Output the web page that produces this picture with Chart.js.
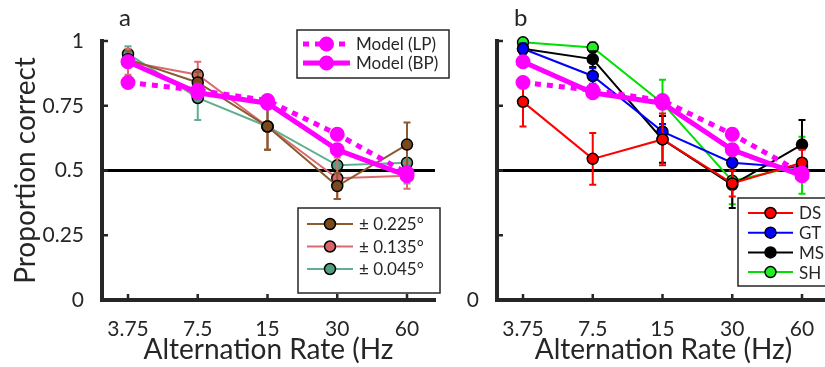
<!DOCTYPE html>
<html>
<head>
<meta charset="utf-8">
<script src="https://cdn.jsdelivr.net/npm/chart.js@4.4.1/dist/chart.umd.min.js"></script>
<style>
    html, body { margin: 0; padding: 0; background: #fff; overflow: hidden; width: 825px; height: 367px; }
    #chartA { position: absolute; left: 0; top: 0; }
    #chartB { position: absolute; left: 440px; top: 0; }
</style>
</head>
<body>
<canvas id="chartB" width="400" height="367"></canvas>
<canvas id="chartA" width="470" height="367"></canvas>
<script>
// x categories (Hz) and axis ticks
var rates = [3.75, 7.5, 15, 30, 60];
var rateLabels = ['3.75', '7.5', '15', '30', '60'];
var yTicks = [0, 0.25, 0.5, 0.75, 1];
var yTickLabels = ['0', '0.25', '0.5', '0.75', '1'];
var chance = 0.5;

// model curves, same in both panels
var modelLP = [0.84, 0.81, 0.77, 0.64, 0.49];
var modelBP = [0.92, 0.80, 0.76, 0.58, 0.48];

// panel a: disparity amplitude
var amp225 = [0.93, 0.84, 0.67, 0.44, 0.60];
var amp225Err = [0.03, 0.04, 0.09, 0.05, 0.085];
var amp135 = [0.92, 0.87, 0.67, 0.47, 0.48];
var amp135Err = [0.05, 0.05, 0.09, 0.08, 0.05];
var amp045 = [0.95, 0.78, 0.67, 0.52, 0.53];
var amp045Err = [0.03, 0.085, 0.09, 0.05, 0.08];

// panel b: observers
var obsDS = [0.765, 0.545, 0.62, 0.45, 0.53];
var obsDSErr = [0.095, 0.1, 0.1, 0.05, 0.05];
var obsGT = [0.97, 0.865, 0.65, 0.53, 0.51];
var obsGTErr = [0.02, 0.03, 0.03, 0.03, 0.03];
var obsMS = [0.97, 0.93, 0.62, 0.445, 0.60];
var obsMSErr = [0.02, 0.03, 0.09, 0.09, 0.095];
var obsSH = [0.995, 0.975, 0.76, 0.46, 0.52];
var obsSHErr = [0.01, 0.02, 0.09, 0.09, 0.11];

var axisColor = '#262626';
Chart.defaults.font.family = 'Lato';
Chart.defaults.color = axisColor;

function toPoints(vals) {
    return rates.map(function (r, i) { return { x: r, y: vals[i] }; });
}

function model(label, vals, dashed) {
    return {
        label: label, data: toPoints(vals),
        borderColor: '#ff00ff', borderWidth: 5, borderDash: dashed ? [6, 6] : [],
        pointRadius: 6.5, pointBackgroundColor: '#ff00ff', pointBorderColor: '#ff00ff', pointBorderWidth: 2
    };
}

function subject(label, vals, errs, line, fill) {
    return {
        label: label, data: toPoints(vals), errors: errs,
        borderColor: line, borderWidth: 2,
        pointRadius: 5.5, pointBackgroundColor: fill, pointBorderColor: '#000', pointBorderWidth: 1.5
    };
}

// chance line, error bars, inward ticks, panel letter and boxed legends
var panelDecor = {
    id: 'panelDecor',
    beforeDatasetsDraw: function (chart) {
        var ctx = chart.ctx, a = chart.chartArea, y = chart.scales.y.getPixelForValue(chance);
        ctx.save();
        ctx.strokeStyle = '#000';
        ctx.lineWidth = 3;
        ctx.beginPath();
        ctx.moveTo(a.left, y);
        ctx.lineTo(a.right, y);
        ctx.stroke();
        ctx.restore();
    },
    beforeDatasetDraw: function (chart, args) {
        var ds = chart.data.datasets[args.index];
        if (!ds.errors) return;
        var ctx = chart.ctx, xs = chart.scales.x, ys = chart.scales.y;
        ctx.save();
        ctx.strokeStyle = ds.borderColor;
        ctx.lineWidth = 2;
        ds.data.forEach(function (p, i) {
            var x = xs.getPixelForValue(p.x);
            var lo = ys.getPixelForValue(p.y - ds.errors[i]);
            var hi = ys.getPixelForValue(p.y + ds.errors[i]);
            ctx.beginPath();
            ctx.moveTo(x, lo); ctx.lineTo(x, hi);
            ctx.moveTo(x - 3.5, lo); ctx.lineTo(x + 3.5, lo);
            ctx.moveTo(x - 3.5, hi); ctx.lineTo(x + 3.5, hi);
            ctx.stroke();
        });
        ctx.restore();
    },
    afterDraw: function (chart, args, opts) {
        var ctx = chart.ctx, a = chart.chartArea, xs = chart.scales.x, ys = chart.scales.y;
        ctx.save();
        ctx.strokeStyle = axisColor;
        ctx.lineWidth = 2.5;
        ctx.beginPath();
        rates.forEach(function (r) {
            var x = xs.getPixelForValue(r);
            ctx.moveTo(x, a.bottom); ctx.lineTo(x, a.bottom - 6);
        });
        yTicks.forEach(function (v) {
            var y = ys.getPixelForValue(v);
            ctx.moveTo(a.left, y); ctx.lineTo(a.left + 6, y);
        });
        ctx.stroke();

        ctx.fillStyle = axisColor;
        ctx.font = '24px Lato';
        ctx.textBaseline = 'alphabetic';
        ctx.fillText(opts.letter, a.left + 17, 26);

        (opts.legends || []).forEach(function (lg) {
            ctx.fillStyle = '#fff';
            ctx.fillRect(lg.x, lg.y, lg.w, lg.h);
            ctx.strokeStyle = axisColor;
            ctx.lineWidth = 1.5;
            ctx.setLineDash([]);
            ctx.strokeRect(lg.x, lg.y, lg.w, lg.h);
            lg.ids.forEach(function (id, k) {
                var ds = chart.data.datasets[id];
                var cy = lg.y + lg.first + k * lg.rowH;
                var x0 = lg.x + lg.lineFrom, x1 = x0 + lg.lineLen, cx = (x0 + x1) / 2;
                ctx.strokeStyle = ds.borderColor;
                ctx.lineWidth = ds.borderWidth;
                ctx.setLineDash(ds.borderDash || []);
                ctx.beginPath();
                ctx.moveTo(x0, cy); ctx.lineTo(x1, cy);
                ctx.stroke();
                ctx.setLineDash([]);
                ctx.beginPath();
                ctx.arc(cx, cy, ds.pointRadius, 0, Math.PI * 2);
                ctx.fillStyle = ds.pointBackgroundColor;
                ctx.fill();
                ctx.lineWidth = ds.pointBorderWidth;
                ctx.strokeStyle = ds.pointBorderColor;
                ctx.stroke();
                ctx.fillStyle = axisColor;
                ctx.font = '17px Lato';
                ctx.textBaseline = 'middle';
                ctx.fillText(ds.label, x1 + 6, cy + 1);
            });
        });
        ctx.restore();
    }
};

function makeOptions(cfg) {
    return {
        responsive: false,
        animation: false,
        layout: { padding: { top: 41, right: cfg.padRight, left: 0, bottom: 0 } },
        datasets: { line: { tension: 0, clip: false } },
        plugins: { legend: { display: false }, tooltip: { enabled: false }, panelDecor: cfg.decor },
        scales: {
            x: {
                type: 'logarithmic', min: 2.896, max: 79.25,
                afterBuildTicks: function (s) { s.ticks = rates.map(function (v) { return { value: v }; }); },
                afterFit: function (s) { s.height = 67; },
                grid: { display: false },
                border: { color: axisColor, width: 4 },
                ticks: {
                    autoSkip: false, maxRotation: 0, padding: 9,
                    font: { size: 21 }, color: axisColor,
                    callback: function (v, i) { return rateLabels[i]; }
                },
                title: { display: true, text: cfg.xTitle, font: { size: 28 }, color: axisColor, padding: { top: 0, bottom: 0 } }
            },
            y: {
                min: 0, max: 1,
                afterBuildTicks: function (s) { s.ticks = yTicks.map(function (v) { return { value: v }; }); },
                afterFit: function (s) { s.width = cfg.yWidth; },
                grid: { display: false },
                border: { color: axisColor, width: 4 },
                ticks: {
                    padding: 10, font: { size: 21 }, color: axisColor,
                    callback: function (v, i) { return cfg.yLabels ? yTickLabels[i] : (v === 0 ? '0' : ''); }
                },
                title: { display: !!cfg.yTitle, text: cfg.yTitle, font: { size: 28 }, color: axisColor, padding: { top: 9, bottom: 0 } }
            }
        }
    };
}

new Chart(document.getElementById('chartA'), {
    type: 'line',
    plugins: [panelDecor],
    data: {
        datasets: [
            model('Model (LP)', modelLP, true),
            model('Model (BP)', modelBP, false),
            subject('\u00b1 0.225\u00b0', amp225, amp225Err, '#8c5a2e', '#7a4a1e'),
            subject('\u00b1 0.135\u00b0', amp135, amp135Err, '#d96a6f', '#d9646a'),
            subject('\u00b1 0.045\u00b0', amp045, amp045Err, '#60b08f', '#4fa080')
        ]
    },
    options: makeOptions({
        padRight: 35, yWidth: 102, yLabels: true,
        xTitle: 'Alternation Rate (Hz', yTitle: 'Proportion correct',
        decor: {
            letter: 'a',
            legends: [
                { x: 297, y: 30, w: 152, h: 48, first: 14, rowH: 19, lineFrom: 6, lineLen: 47, ids: [0, 1] },
                { x: 298, y: 208, w: 142, h: 85, first: 16, rowH: 22.5, lineFrom: 9, lineLen: 46, ids: [2, 3, 4] }
            ]
        }
    })
});

new Chart(document.getElementById('chartB'), {
    type: 'line',
    plugins: [panelDecor],
    data: {
        datasets: [
            model('Model (LP)', modelLP, true),
            model('Model (BP)', modelBP, false),
            subject('DS', obsDS, obsDSErr, '#ff0000', '#ff0000'),
            subject('GT', obsGT, obsGTErr, '#0000ff', '#0000ff'),
            subject('MS', obsMS, obsMSErr, '#000000', '#000000'),
            subject('SH', obsSH, obsSHErr, '#00e000', '#22ee22')
        ]
    },
    options: makeOptions({
        padRight: 10, yWidth: 57, yLabels: false,
        xTitle: 'Alternation Rate (Hz)', yTitle: '',
        decor: {
            letter: 'b',
            legends: [
                { x: 298, y: 198, w: 110, h: 88, first: 15, rowH: 19.7, lineFrom: 10, lineLen: 45, ids: [2, 3, 4, 5] }
            ]
        }
    })
});
</script>
</body>
</html>
